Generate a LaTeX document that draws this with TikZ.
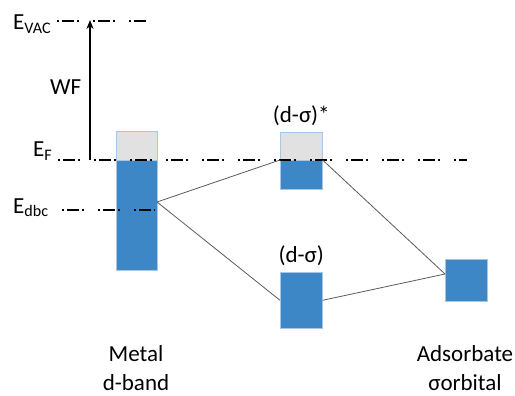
\documentclass[tikz,border=0pt]{standalone}
\usepackage{fontspec}
\setmainfont{Carlito}
\usepackage{xcolor}
\usetikzlibrary{arrows.meta,positioning}
\definecolor{bandblue}{HTML}{3D87C7}
\definecolor{bandgray}{HTML}{E1E1E1}
\definecolor{bandedge}{HTML}{A9C6E2}
\definecolor{linkgray}{HTML}{5A5A5A}

\begin{document}
\begin{tikzpicture}[x=1pt, y=-1pt, every node/.style={font=\fontsize{23}{29}\selectfont, inner sep=0pt, align=center},
  filled/.style={draw=bandedge, line width=0.6pt, fill=bandblue, anchor=north west},
  empty/.style={draw=bandedge, line width=0.6pt, fill=bandgray, anchor=north west},
  level/.style={line width=1.1pt, dash pattern=on 2pt off 3pt on 12pt off 3pt on 2pt off 14pt},
  link/.style={draw=linkgray, line width=0.8pt}]
\useasboundingbox (0,0) rectangle (515,396);
% Nodes
\node[empty, minimum width=41pt, minimum height=29pt] (metaltop) at (116,131) {};
\node[filled, minimum width=41pt, minimum height=110pt] (metal) at (116,160) {};
\node[empty, minimum width=42pt, minimum height=28pt] (antitop) at (280,132) {};
\node[filled, minimum width=42pt, minimum height=29pt] (anti) at (280,160) {};
\node[filled, minimum width=42pt, minimum height=56pt] (bond) at (280,272) {};
\node[filled, minimum width=42pt, minimum height=42pt] (ads) at (445,259) {};
\node[above=6pt of antitop] (antilabel) {(d-σ)*};
\node[above=6pt of bond] (bondlabel) {(d-σ)};
\node (metallabel) at (136,368) {Metal\\d-band};
\node (adslabel) at (465,368) {Adsorbate\\σorbital};
\node[anchor=base west] (evac) at (13,30) {E\textsubscript{VAC}};
\node[anchor=base west] (ef) at (33,157) {E\textsubscript{F}};
\node[anchor=base west] (edbc) at (13,213) {E\textsubscript{dbc}};
\node[anchor=base west] (wf) at (50,95) {WF};
\coordinate (vacL) at (57,21);
\coordinate (vacR) at (148,21);
\coordinate (fermiL) at (58,160);
\coordinate (fermiR) at (467,160);
\coordinate (dbcL) at (62,210);
\coordinate (dbcR) at (155,210);
\coordinate (wfbase) at (90,160);
\coordinate (wftip) at (90,20);
\coordinate (dtap) at (157,202);
\coordinate (adstap) at (445,274);
% Levels
\draw[level] (vacL) -- (vacR);
\draw[level] (fermiL) -- (fermiR);
\draw[level] (dbcL) -- (dbcR);
% Arrows
\draw[-{Stealth[length=9pt,width=7pt]}, line width=1.6pt] (wfbase) -- (wftip);
\draw[link] (dtap) -- (anti.north west);
\draw[link] (dtap) -- (bond.west);
\draw[link] (anti.north east) -- (adstap);
\draw[link] (bond.east) -- (adstap);
\end{tikzpicture}
\end{document}
